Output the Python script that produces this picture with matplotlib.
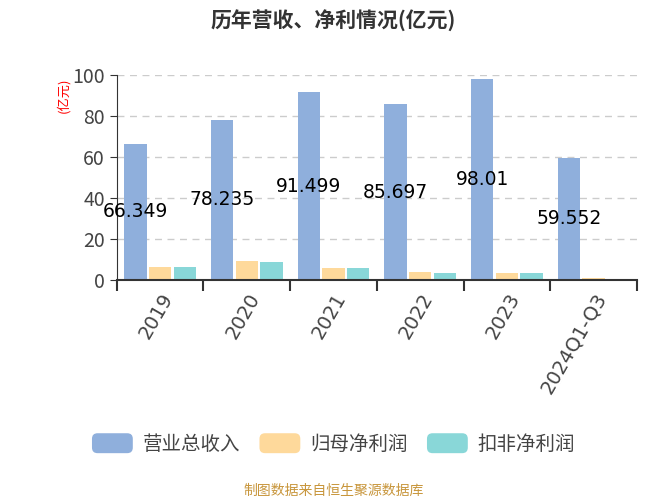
import numpy as np
import matplotlib
matplotlib.use("Agg")
import matplotlib.pyplot as plt
from matplotlib.patches import Patch, FancyBboxPatch
from matplotlib.legend_handler import HandlerPatch

plt.rcParams['font.family'] = ['Noto Sans CJK SC', 'DejaVu Sans']

# 数据
years = ['2019', '2020', '2021', '2022', '2023', '2024Q1-Q3']
revenue = [66.349, 78.235, 91.499, 85.697, 98.01, 59.552]
net_profit = [6.2, 9.2, 6.0, 3.7, 3.5, 0.8]
deducted_profit = [6.1, 9.0, 5.8, 3.4, 3.2, 0.6]
series_names = ['营业总收入', '归母净利润', '扣非净利润']
colors = ['#8fafdc', '#fed99b', '#89d7d8']


# 圆角图例色块
class RoundBox(HandlerPatch):
    def create_artists(self, legend, orig, xd, yd, width, height, fontsize, trans):
        p = FancyBboxPatch((-xd, -yd), width, height,
                           boxstyle='round,pad=0,rounding_size=4',
                           facecolor=orig.get_facecolor(), edgecolor='none',
                           transform=trans)
        return [p]


fig = plt.figure(figsize=(6.67, 5), dpi=100)
ax = fig.add_axes([0.175, 0.44, 0.78, 0.41])

x = np.arange(len(years))
w = 0.26
step = 0.285
for i, vals in enumerate([revenue, net_profit, deducted_profit]):
    ax.bar(x + (i - 1) * step, vals, width=w, color=colors[i], zorder=2)

# 数值标签 (柱子中部)
for xi, v in zip(x, revenue):
    ax.text(xi - step, v / 2, f'{v:g}', ha='center', va='center',
            fontsize=13.5, color='#000000', family='DejaVu Sans', zorder=3)

ax.set_xlim(-0.5, len(years) - 0.5)
ax.set_ylim(0, 100)
ax.set_yticks([0, 20, 40, 60, 80, 100])
ax.yaxis.grid(True, linestyle=(0, (5, 4)), color='#cccccc', linewidth=1, zorder=0)
ax.tick_params(axis='y', labelsize=14, labelcolor='#444444', length=5, color='#333333')

# x 轴刻度在类别边界
ax.set_xticks(np.arange(-0.5, len(years), 1.0))
ax.set_xticklabels([])
ax.set_xticks(x, minor=True)
ax.set_xticklabels(years, minor=True, rotation=60, ha='right', va='top',
                   rotation_mode='anchor', fontsize=14, color='#444444',
                   family='DejaVu Sans')
ax.tick_params(axis='x', which='major', length=8, width=1.5, color='#333333')
ax.tick_params(axis='x', which='minor', length=0, pad=7)

for s in ['top', 'right']:
    ax.spines[s].set_visible(False)
ax.spines['left'].set_color('#333333')
ax.spines['bottom'].set_color('#333333')
ax.spines['bottom'].set_linewidth(1.5)

ax.text(-0.103, 0.9, '(亿元)', transform=ax.transAxes, rotation=90,
        ha='center', va='center', color='red', fontsize=9.5)

fig.text(0.5, 0.958, '历年营收、净利情况(亿元)', ha='center', va='center',
         fontsize=15, fontweight='bold', color='#333333')

handles = [Patch(facecolor=c, edgecolor='none') for c in colors]
fig.legend(handles, series_names, loc='center', bbox_to_anchor=(0.5, 0.112),
           ncol=3, frameon=False, fontsize=14, handlelength=2.1,
           handleheight=1.2, columnspacing=1.0, handletextpad=0.5,
           labelcolor='#444444', handler_map={Patch: RoundBox()})

fig.text(0.5, 0.018, '制图数据来自恒生聚源数据库', ha='center', va='center',
         fontsize=10, color='#c8963c')

fig.savefig('out.png', dpi=100)
